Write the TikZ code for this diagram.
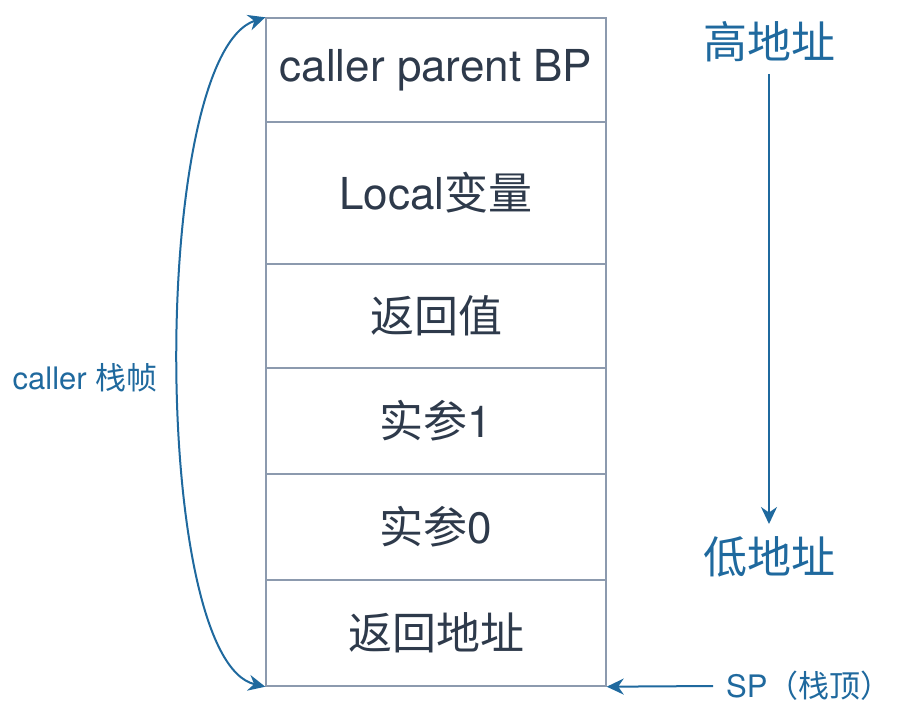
\documentclass[tikz,border=0pt]{standalone}
\usepackage{fontspec}
\setmainfont{TeX Gyre Heros}
\newfontfamily\cjk{Noto Sans CJK SC}
\usetikzlibrary{arrows.meta}
\definecolor{boxline}{HTML}{8C9AAE}
\definecolor{txt}{HTML}{2E3A4B}
\definecolor{blu}{HTML}{1F699E}
\tikzset{
  cell/.style={draw=boxline, line width=1.4pt, minimum width=340pt, inner sep=0pt, text=txt, font=\fontsize{44}{46}\selectfont},
  lbl/.style={text=blu, inner sep=0pt},
  arr/.style={draw=blu, line width=2pt, -{Stealth[length=17pt,width=16pt]}},
}
\begin{document}
\begin{tikzpicture}[x=1pt,y=-1pt]
\useasboundingbox (0,0) rectangle (910,709);
\node[cell, minimum height=104pt] (c1) at (436,70) {caller parent BP};
\node[cell, minimum height=142pt] (c2) at (436,193) {Local{\cjk 变量}};
\node[cell, minimum height=104pt] (c3) at (436,316) {\cjk 返回值};
\node[cell, minimum height=106pt] (c4) at (436,421) {{\cjk 实参}1};
\node[cell, minimum height=106pt] (c5) at (436,527) {{\cjk 实参}0};
\node[cell, minimum height=106pt] (c6) at (436,633) {\cjk 返回地址};
\node[lbl, font=\fontsize{44}{46}\selectfont] (hi) at (769,42) {\cjk 高地址};
\node[lbl, font=\fontsize{44}{46}\selectfont] (lo) at (769,557) {\cjk 低地址};
\node[lbl, font=\fontsize{31}{34}\selectfont] (frame) at (85,378) {caller {\cjk 栈帧}};
\node[lbl, font=\fontsize{31}{34}\selectfont, anchor=west] (sp) at (726,686) {SP{\cjk （栈顶）}};
\coordinate (hiS) at (769,74);
\coordinate (loE) at (769,524);
\draw[arr] (hiS) -- (loE);
\coordinate (spS) at (713,686);
\draw[arr] (spS) -- (c6.south east);
\draw[draw=blu, line width=2pt, {Stealth[length=17pt,width=16pt]}-{Stealth[length=17pt,width=16pt]}]
  (c6.south west) .. controls (150,660) and (150,55) .. (c1.north west);
\end{tikzpicture}
\end{document}
